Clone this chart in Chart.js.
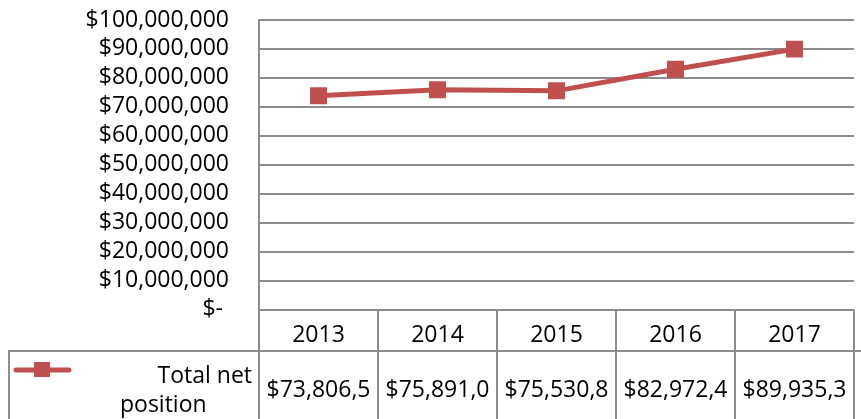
<!DOCTYPE html>
<html>
<head>
<meta charset="utf-8">
<script src="https://cdn.jsdelivr.net/npm/chart.js@4.4.1/dist/chart.umd.min.js"></script>
<style>
  html, body { margin: 0; padding: 0; background: #fff; overflow: hidden; }
  #wrap { width: 861px; height: 419px; overflow: hidden; position: relative; }
  canvas { display: block; }
</style>
</head>
<body>
<div id="wrap"><canvas id="c" width="866" height="419"></canvas></div>
<script>
// ---- data ----
const categories = ['2013', '2014', '2015', '2016', '2017'];
const totalNetPosition = [73806500, 75891000, 75530800, 82972400, 89935300];
const seriesName = ['Total net', 'position'];
const yTickMin = 0;
const yTickMax = 100000000;
const yTickStep = 10000000;

const RED = '#c0504d';
const GRID = '#8c8c8c';
const FONT = '"Open Sans", sans-serif';
const FSIZE = 23;

function fmtMoney(v) {
  if (v === 0) return '$- ';
  return '$' + Math.round(v).toLocaleString('en-US');
}

const tablePlugin = {
  id: 'dataTable',
  afterDraw(chart) {
    const ctx = chart.ctx;
    const ca = chart.chartArea;
    const xs = chart.scales.x;
    const n = categories.length;
    const colW = (ca.right - ca.left) / n;
    const H = chart.height;
    const rowY = 351;
    ctx.save();
    ctx.strokeStyle = GRID;
    ctx.lineWidth = 2;
    ctx.beginPath();
    ctx.moveTo(9, rowY); ctx.lineTo(chart.width, rowY);
    ctx.moveTo(9, rowY - 1); ctx.lineTo(9, H);
    for (let i = 0; i <= n; i++) {
      const x = Math.round(ca.left + i * colW);
      ctx.moveTo(x, ca.bottom); ctx.lineTo(x, H);
    }
    ctx.stroke();

    ctx.fillStyle = '#000';
    ctx.font = FSIZE + 'px ' + FONT;
    ctx.textBaseline = 'alphabetic';
    ctx.textAlign = 'center';
    for (let i = 0; i < n; i++) {
      const cx = xs.getPixelForValue(i);
      ctx.fillText(categories[i], cx, 342);
      // values: Excel clips the text to the cell width
      const full = fmtMoney(totalNetPosition[i]);
      const shown = full.slice(0, 9);
      ctx.save();
      const x0 = ca.left + i * colW;
      ctx.beginPath(); ctx.rect(x0 + 2, rowY + 1, colW - 4, H - rowY);
      ctx.clip();
      ctx.fillText(shown, cx, 397);
      ctx.restore();
    }
    // legend key
    ctx.strokeStyle = RED;
    ctx.lineWidth = 5;
    ctx.lineCap = 'round';
    ctx.beginPath(); ctx.moveTo(16, 370); ctx.lineTo(69, 370); ctx.stroke();
    ctx.fillStyle = RED;
    ctx.fillRect(34, 362, 16, 15);
    ctx.fillStyle = '#000';
    ctx.textAlign = 'right';
    ctx.fillText(seriesName[0], 252, 383);
    ctx.textAlign = 'left';
    ctx.fillText(seriesName[1], 120, 412);
    ctx.restore();
  }
};

new Chart(document.getElementById('c'), {
  type: 'line',
  data: {
    labels: categories,
    datasets: [{
      label: seriesName.join(' '),
      data: totalNetPosition,
      borderColor: RED,
      backgroundColor: RED,
      borderWidth: 5,
      pointStyle: 'rect',
      pointRadius: 12,
      pointHoverRadius: 12,
      pointBorderWidth: 0,
      pointBackgroundColor: RED,
      tension: 0,
      fill: false
    }]
  },
  options: {
    responsive: false,
    animation: false,
    devicePixelRatio: 1,
    layout: { padding: { left: 0, top: 20, right: 2, bottom: 109.5 } },
    plugins: { legend: { display: false }, tooltip: { enabled: false } },
    scales: {
      x: {
        type: 'category',
        display: false,
        offset: true
      },
      y: {
        min: yTickMin,
        max: yTickMax,
        afterFit(scale) { scale.width = 259; },
        border: { display: true, color: GRID, width: 2 },
        grid: { color: GRID, lineWidth: 2, drawTicks: true, tickLength: 30, tickColor: 'rgba(0,0,0,0)' },
        ticks: {
          stepSize: yTickStep,
          autoSkip: false,
          padding: 0,
          color: '#000',
          font: { family: FONT, size: FSIZE },
          callback: (v) => fmtMoney(v)
        }
      }
    }
  },
  plugins: [tablePlugin]
});
</script>
</body>
</html>
